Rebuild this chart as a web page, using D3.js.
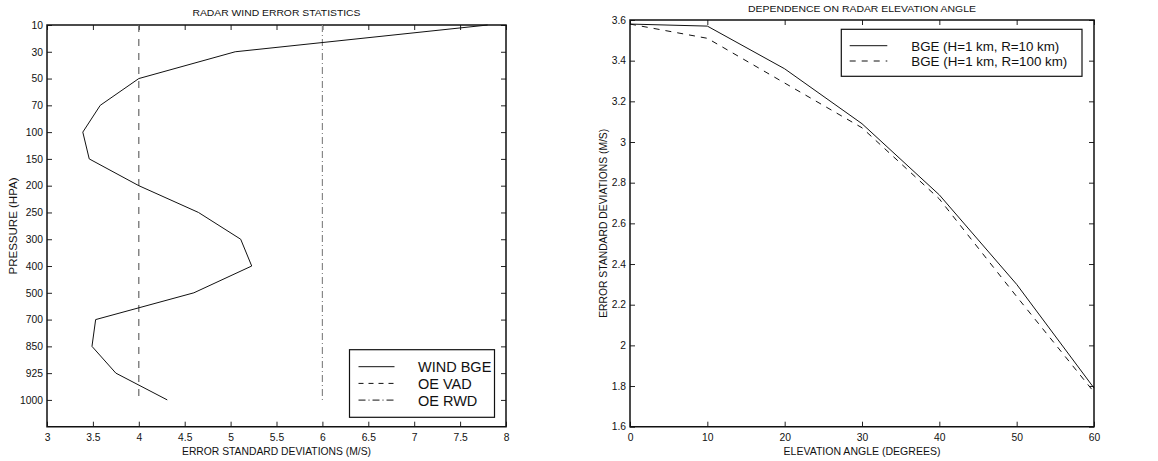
<!DOCTYPE html>
<html>
<head>
<meta charset="utf-8">
<script src="https://cdn.jsdelivr.net/npm/d3@7"></script>
<style>
  body { margin: 0; background: #fff; }
  text { font-family: "Liberation Sans", Arial, sans-serif; fill: #111; }
</style>
</head>
<body>
<div id="chart"></div>
<script>
// ---- data ----
var pressureLevels = ["10", "30", "50", "70", "100", "150", "200", "250", "300", "400", "500", "700", "850", "925", "1000"];
var windBGE = [7.8, 5.05, 4.0, 3.58, 3.39, 3.46, 4.0, 4.65, 5.11, 5.23, 4.6, 3.53, 3.49, 3.75, 4.31];
var oeVAD = [4, 4, 4, 4, 4, 4, 4, 4, 4, 4, 4, 4, 4, 4, 4];
var oeRWD = [6, 6, 6, 6, 6, 6, 6, 6, 6, 6, 6, 6, 6, 6, 6];
var leftLegend = ["WIND BGE", "OE VAD", "OE RWD"];

var elevAngles = [0, 10, 20, 30, 40, 50, 60];
var bgeR10 = [3.58, 3.57, 3.36, 3.09, 2.74, 2.30, 1.79];
var bgeR100 = [3.58, 3.51, 3.29, 3.07, 2.72, 2.24, 1.77];
var rightLegend = ["BGE (H=1 km, R=10 km)", "BGE (H=1 km, R=100 km)"];

var width = 1158, height = 461;
var svg = d3.select("#chart").append("svg")
    .attr("width", width)
    .attr("height", height);

var fmt = function(d) { return +d.toFixed(1); };
var tickFont = "10.3px";

// frame + inward ticks on all four sides
function drawFrame(g, x, y, xTicks, yTicks, xFmt, yFmt) {
    var xr = d3.extent(x.range()), yr = d3.extent(y.range());
    var x0 = xr[0], x1 = xr[1], top = yr[0], bottom = yr[1];

    g.append("g").attr("transform", "translate(0," + bottom + ")")
        .call(d3.axisBottom(x).tickValues(xTicks).tickSize(-5).tickPadding(7).tickFormat(xFmt));
    g.append("g").attr("transform", "translate(0," + top + ")")
        .call(d3.axisTop(x).tickValues(xTicks).tickSize(-5).tickFormat(function() { return ""; }));
    g.append("g").attr("transform", "translate(" + x0 + ",0)")
        .call(d3.axisLeft(y).tickValues(yTicks).tickSize(-5).tickPadding(4).tickFormat(yFmt));
    g.append("g").attr("transform", "translate(" + x1 + ",0)")
        .call(d3.axisRight(y).tickValues(yTicks).tickSize(-5).tickFormat(function() { return ""; }));

    g.selectAll(".domain").remove();
    g.selectAll(".tick line").attr("stroke", "#222");
    g.selectAll(".tick text")
        .style("font-family", "'Liberation Sans', Arial, sans-serif")
        .style("font-size", tickFont)
        .attr("fill", "#111");

    g.append("path")
        .attr("d", "M" + x0 + "," + top + "H" + x1 + "V" + bottom + "H" + x0 + "Z")
        .attr("fill", "none")
        .attr("stroke", "#111")
        .attr("stroke-width", 1.5);
}

function addText(g, str, x, y, size, len, rot) {
    var t = g.append("text")
        .attr("text-anchor", "middle")
        .style("font-size", size)
        .attr("textLength", len)
        .attr("lengthAdjust", "spacingAndGlyphs")
        .text(str);
    if (rot) {
        t.attr("transform", "translate(" + x + "," + y + ") rotate(-90)");
    } else {
        t.attr("x", x).attr("y", y);
    }
    return t;
}

//////////////////////
// left: wind error //
//////////////////////
var gl = svg.append("g");

var xL = d3.scaleLinear().domain([3, 8]).range([47, 506]);
var yL = d3.scaleLinear().domain([0, 15]).range([25, 426.7]);  // level index, 10 hPa on top

drawFrame(gl, xL, yL, d3.range(3, 8.01, 0.5), d3.range(0, pressureLevels.length),
    fmt, function(i) { return pressureLevels[i]; });

var lineL = function(vals) {
    return d3.line()
        .x(function(d) { return xL(d); })
        .y(function(d, i) { return yL(i); })(vals);
};

gl.append("path").attr("d", lineL(oeVAD))
    .attr("fill", "none").attr("stroke", "#666").attr("stroke-width", 1.2)
    .attr("stroke-dasharray", "7,7");
gl.append("path").attr("d", lineL(oeRWD))
    .attr("fill", "none").attr("stroke", "#888").attr("stroke-width", 1.2)
    .attr("stroke-dasharray", "7,3,1,3");
gl.append("path").attr("d", lineL(windBGE))
    .attr("fill", "none").attr("stroke", "#111").attr("stroke-width", 1);

addText(gl, "RADAR WIND ERROR STATISTICS", 276.5, 16, "8.6px", 168);
addText(gl, "ERROR STANDARD DEVIATIONS (M/S)", 276.5, 455, "11.4px", 189);
addText(gl, "PRESSURE (HPA)", 17, 226, "11.4px", 97, true);

// legend
var lgL = gl.append("g").attr("transform", "translate(349.5,349.7)");
lgL.append("rect").attr("width", 145).attr("height", 67.6)
    .attr("fill", "#fff").attr("stroke", "#111").attr("stroke-width", 1.2);
var lgDash = [null, "5,5", "7,3,1,3"];
leftLegend.forEach(function(name, i) {
    var ly = 17 + i * 16.7;
    lgL.append("line").attr("x1", 9).attr("x2", 45).attr("y1", ly).attr("y2", ly)
        .attr("stroke", "#111").attr("stroke-width", 1)
        .attr("stroke-dasharray", lgDash[i]);
    lgL.append("text").attr("x", 68.5).attr("y", ly + 5.5)
        .style("font-size", "14.5px").text(name);
});

////////////////////////////
// right: elevation angle //
////////////////////////////
var gr = svg.append("g");

var xR = d3.scaleLinear().domain([0, 60]).range([630, 1094]);
var yR = d3.scaleLinear().domain([1.6, 3.6]).range([426.7, 20]);

drawFrame(gr, xR, yR, d3.range(0, 61, 10), d3.range(1.6, 3.61, 0.2), fmt, fmt);

var lineR = d3.line()
    .x(function(d) { return xR(d[0]); })
    .y(function(d) { return yR(d[1]); });

gr.append("path").attr("d", lineR(d3.zip(elevAngles, bgeR100)))
    .attr("fill", "none").attr("stroke", "#111").attr("stroke-width", 1)
    .attr("stroke-dasharray", "6,6");
gr.append("path").attr("d", lineR(d3.zip(elevAngles, bgeR10)))
    .attr("fill", "none").attr("stroke", "#111").attr("stroke-width", 1);

addText(gr, "DEPENDENCE ON RADAR ELEVATION ANGLE", 862, 11.7, "8.6px", 228);
addText(gr, "ELEVATION ANGLE (DEGREES)", 862, 455, "11.4px", 157);
addText(gr, "ERROR STANDARD DEVIATIONS (M/S)", 607, 223.3, "11.4px", 189, true);

var lgR = gr.append("g").attr("transform", "translate(841.3,29.3)");
lgR.append("rect").attr("width", 240.7).attr("height", 47)
    .attr("fill", "#fff").attr("stroke", "#111").attr("stroke-width", 1.2);
var lgDashR = [null, "6,6"];
rightLegend.forEach(function(name, i) {
    var ly = 16.4 + i * 15.3;
    lgR.append("line").attr("x1", 8.4).attr("x2", 46).attr("y1", ly).attr("y2", ly)
        .attr("stroke", "#111").attr("stroke-width", 1)
        .attr("stroke-dasharray", lgDashR[i]);
    lgR.append("text").attr("x", 70).attr("y", ly + 5)
        .style("font-size", "13.5px")
        .attr("textLength", i === 0 ? 148 : 156)
        .attr("lengthAdjust", "spacingAndGlyphs")
        .text(name);
});
</script>
</body>
</html>
